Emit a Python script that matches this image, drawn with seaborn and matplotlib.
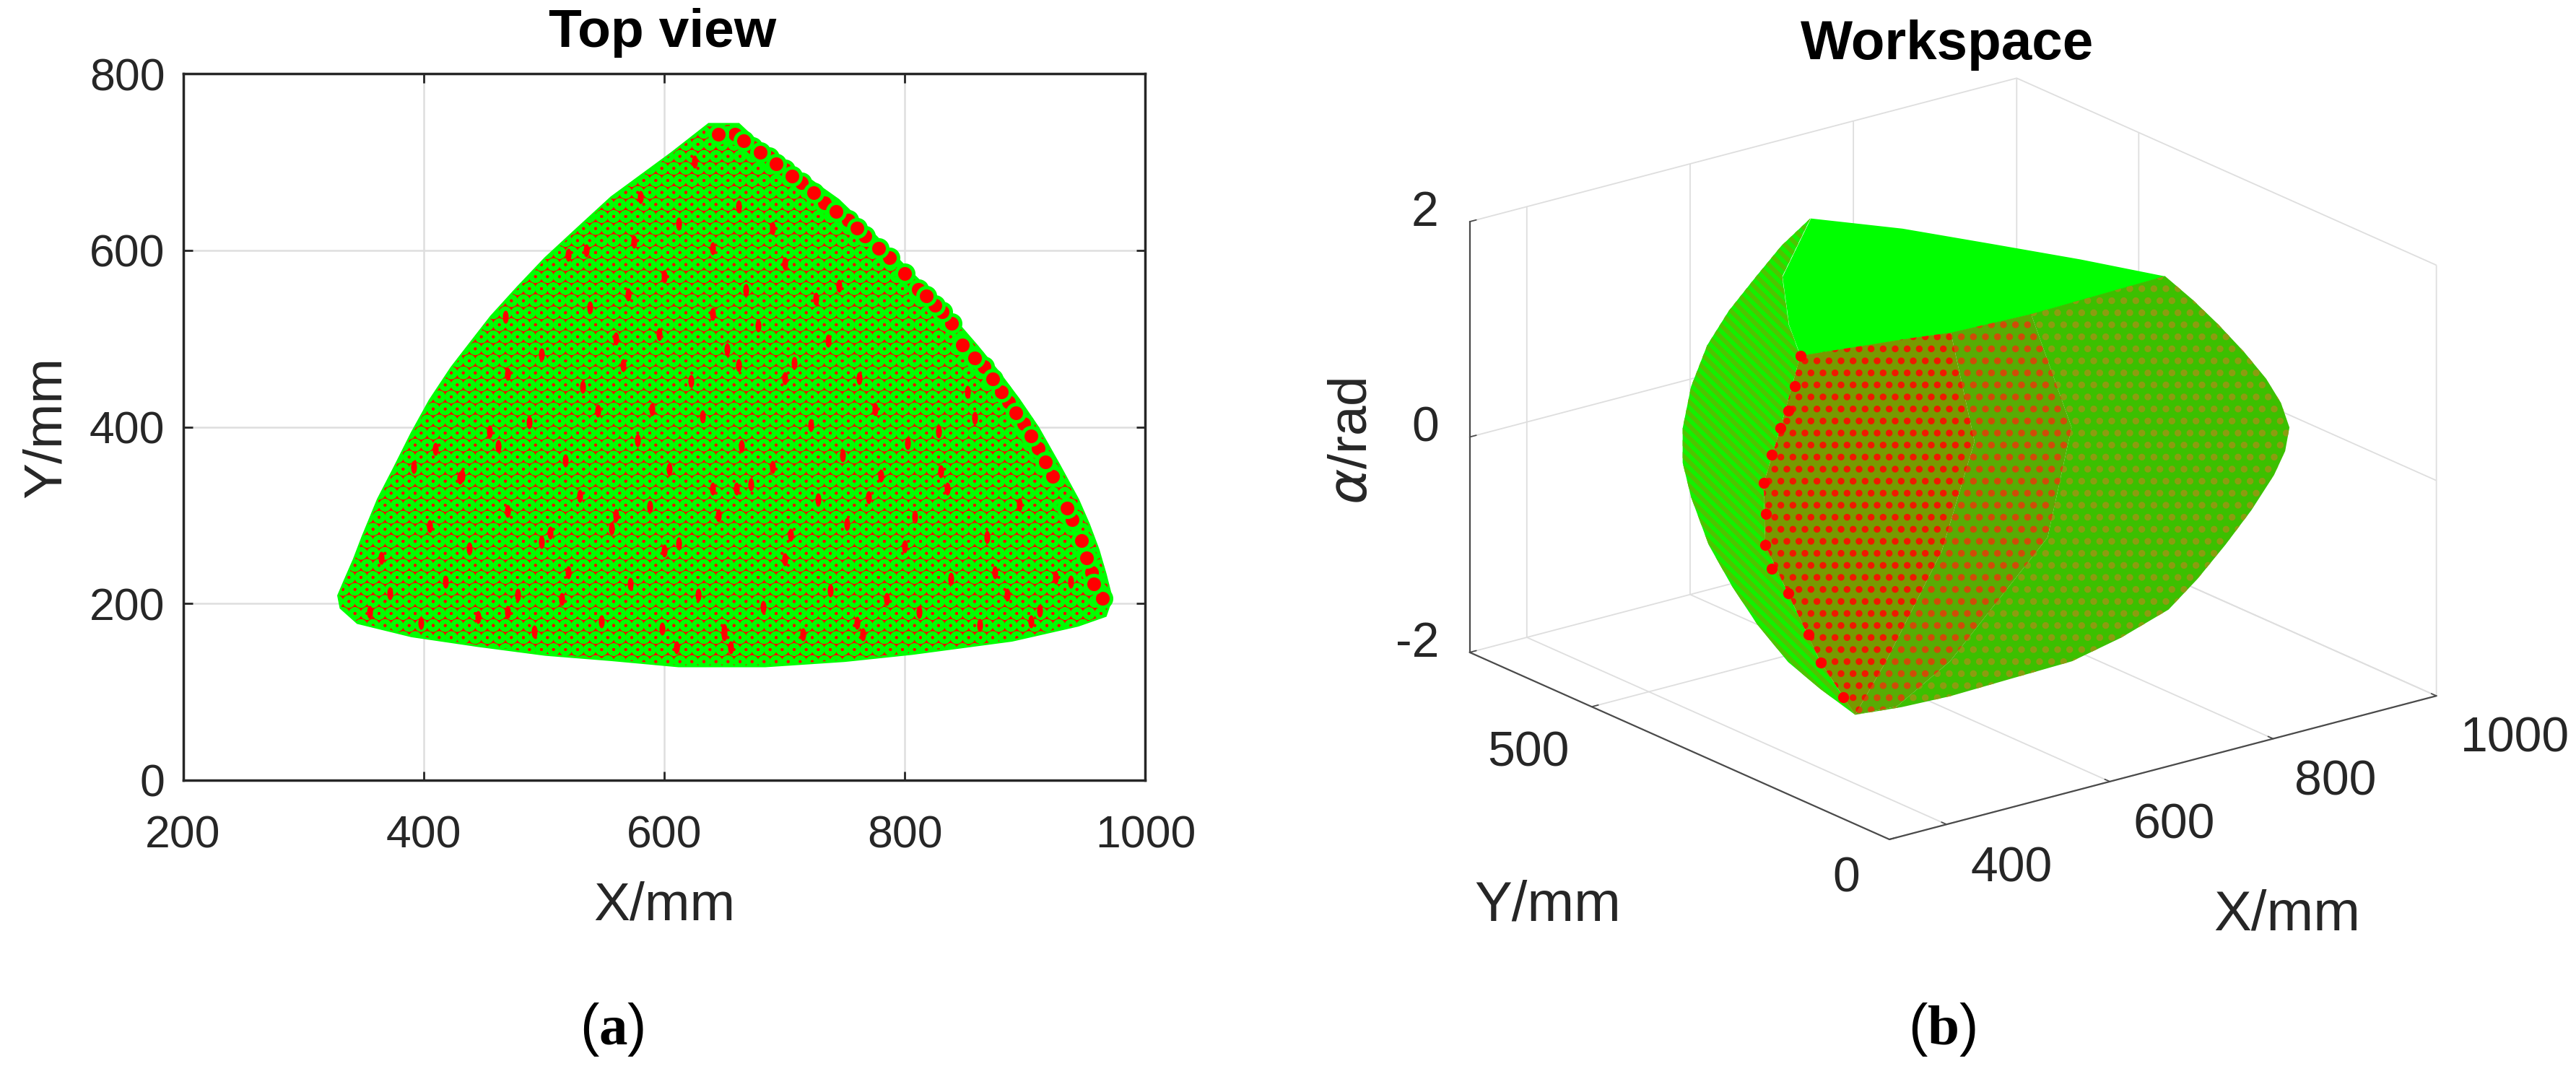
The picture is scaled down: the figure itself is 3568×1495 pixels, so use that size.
import numpy as np, pandas as pd
import matplotlib
matplotlib.use("Agg")
import matplotlib.pyplot as plt
from matplotlib.path import Path
from matplotlib.transforms import Affine2D
import seaborn as sns
from mpl_toolkits.mplot3d.art3d import Poly3DCollection
from mpl_toolkits.mplot3d import proj3d

# ---- Top view: outline
outline_x = [637,662,687,715,745,773,800,820,839,860,878,895,911,928,944,953,961,967,972,967,944,889,806,750,684,612,556,501,445,390,345,331,329,334,342,349,362,376,390,405,423,440,456,478,501,528,556,580,606]
outline_y = [743,743,711,686,657,620,582,555,525,492,462,431,399,358,318,290,261,233,206,186,175,158,143,135,129,129,136,142,152,163,178,195,209,225,250,275,318,355,393,430,467,497,525,558,591,625,660,684,710]
# red points fully visible along the right edge
edge_x = [964,955,951,947,939,923,911,899,886,880,866,858,848,839,831,811,787,778,767,753,733,714,700,687,673,659,645,957,935,917,905,892,873,825,818,800,760,743,724,706,693,680,666]
edge_y = [206,235,252,271,295,344,376,404,428,440,468,478,493,517,530,556,592,602,616,634,654,677,691,705,717,731,731,222,308,360,390,416,454,538,548,574,625,644,665,684,698,711,724]
# visible interior specks
inner_x = [392,410,432,455,468,520,535,580,625,640,662,700,745,770,830,858,875,905,925,470,520,560,600,650,610,700,765,800,650,660,560,590,505,
           355,372,398,418,445,478,492,515,548,572,598,628,655,682,715,738,760,785,812,838,862,885,912,938,
           365,405,438,470,498,530,556,588,612,645,672,705,728,752,780,808,835,868,895,
           430,462,488,518,545,578,604,632,664,690,722,748,775,802,828,852,
           470,498,532,566,596,622,652,678,708,736,762,
           538,570,600,640,668,700,726,575,612,640,662,690]
inner_y = [355,375,345,395,525,595,600,660,700,330,470,250,560,320,350,410,235,180,230,190,235,300,260,165,150,455,165,265,170,330,500,420,280,
           190,212,178,225,185,210,168,205,180,222,172,210,150,196,165,215,178,205,190,228,176,210,192,225,
           252,288,262,305,270,322,285,310,268,300,335,278,318,290,345,298,330,275,312,
           342,378,405,362,418,385,352,412,378,355,402,368,420,382,395,440,
           460,482,445,470,505,452,488,515,472,498,455,
           535,550,570,528,555,585,545,610,630,602,650,625]
# ---- Workspace: surface outlines (X mm, Y mm, alpha rad)
top_x = [679,732,774,816,852,683,589,548,433,478,556]
top_y = [611,530,439,346,253,246,252,264,291,372,490]
top_a = [1.57]*11
ridge_x = [439,417,399,387,392,411,433]
ridge_y = [207,235,265,287,296,294,291]
ridge_a = [-1.57,-1.107,-.505,-.084,.457,.938,1.57]
rim_x = [427,418,402,390.5,390,411,431]
rim_y = [292,291,296,290,280,247,216]
rim_a = [1.30,1.09,.70,.186,-.295,-.866,-1.41]
sil_left_x = [679,641,605,565,529,494,464,445,432,420,415,413,416,426.5]
sil_left_y = [611,608,601,592,579,558,531,505,473,427,381,336,288,248]
sil_left_a = [1.57,1.396,1.2,.983,.766,.505,.244,.026,-.19,-.495,-.756,-.995,-1.234,-1.408]
top_back_x, top_back_y, top_back_a = [478,556], [372,490], [1.57,1.57]
sil_right_x = [683,852,864,874,883,890,892,890,876,858,826,798,757,723,674,628,574,520,477]
sil_right_y = [246,253,222,194,163,135,113,96,84,78,72,77,68,70,83,102,130,158,181]
sil_right_a = [1.57,1.57,1.398,1.225,1.028,.831,.658,.475,.313,.141,-.106,-.382,-.598,-.82,-1.017,-1.19,-1.313,-1.437,-1.51]
sparse_x = [699,639,521,462]; sparse_y = [200,158,160,168]; sparse_a = [.6,-.2,-1.12,-1.44]
dense_x = [589,637,556,478]; dense_y = [252,278,222,209]; dense_a = [1.57,.4,-.32,-1.16]
x_ticks_a, y_ticks_a = [200,400,600,800,1000], [0,200,400,600,800]
x_ticks_b, y_ticks_b, z_ticks_b = [400,600,800,1000], [0,500], [-2,0,2]
x_lab_b = ["400","600","800","1000"]; y_lab_b = ["0","500"]; z_lab_b = ["-2","0","2"]

W, H = 3568, 1495
sns.set_theme(style="white")
plt.rcParams.update({"font.family": ["Liberation Sans", "DejaVu Sans"], "hatch.linewidth": 4.3,
                     "mathtext.fontset": "custom", "mathtext.rm": "Liberation Serif",
                     "mathtext.bf": "Liberation Serif:bold"})
DARK = "#262626"; GRID = "#dedede"
fig = plt.figure(figsize=(W/100, H/100), dpi=100, facecolor="white")

ax = fig.add_axes([253.5/W, 1-1081/H, 1333/W, 979/H])
ax.set_axisbelow(True)
ax.grid(True, color=GRID, lw=1.8)
ax.fill(outline_x, outline_y, facecolor="#ff0000", edgecolor="#00ff00", lw=2, hatch="O", zorder=2)
sliver = Path.unit_circle().transformed(Affine2D().scale(0.45, 1.0))
sns.scatterplot(x=inner_x, y=inner_y, ax=ax, s=170, color="#ff0000", marker=sliver, linewidth=0, zorder=3, legend=False)
sns.scatterplot(x=edge_x, y=edge_y, ax=ax, s=300, color="#ff0000", edgecolor="#00ff00", linewidth=3.6, zorder=4, legend=False)
ax.set_xlim(200, 1000); ax.set_ylim(0, 800)
ax.set_xticks(x_ticks_a); ax.set_yticks(y_ticks_a)
ax.tick_params(direction="in", length=9, width=2, color=DARK, top=True, right=True, bottom=True, left=True,
               labelsize=45, labelcolor=DARK)
ax.tick_params(axis="x", pad=34); ax.tick_params(axis="y", pad=18)
for s in ax.spines.values():
    s.set_color(DARK); s.set_linewidth(2.5); s.set_visible(True)
ax.set_xlabel("X/mm", fontsize=54, color=DARK, labelpad=24)
ax.set_ylabel("Y/mm", fontsize=54, color=DARK, labelpad=18)
fig.text(918/W, 1-45/H, "Top view", fontsize=54, fontweight="bold", color="black", ha="center", va="center")

ax3 = fig.add_axes([1900/W, 0.02, 1500/W, 0.95], projection="3d", computed_zorder=False)
ax3.set_proj_type("ortho")
ax3.view_init(elev=20, azim=-127.5)
ax3.set_box_aspect((1, 1, .665))
ax3.set_xlim(330, 1000); ax3.set_ylim(0, 705); ax3.set_zlim(-2, 2)
ax3.patch.set_alpha(0)
def poly(xs, ys, zs, fc, hc=None, hatch=None, zo=2):
    pc = Poly3DCollection([list(zip(xs, ys, zs))], facecolors=fc, edgecolors=hc or fc, linewidths=0, zorder=zo)
    if hatch: pc.set_hatch(hatch)
    ax3.add_collection3d(pc)
poly(top_x, top_y, top_a, "#00ff00", zo=2)
poly(sil_left_x + ridge_x + top_back_x, sil_left_y + ridge_y + top_back_y, sil_left_a + ridge_a + top_back_a,
     "#14f000", "#4fc400", "\\\\", zo=3)
poly(sil_right_x + ridge_x[:1] + sparse_x[::-1], sil_right_y + ridge_y[:1] + sparse_y[::-1],
     sil_right_a + ridge_a[:1] + sparse_a[::-1], "#3cc000", "#8c9c10", ".", zo=4)
poly([683] + sparse_x + ridge_x[:1] + dense_x[::-1], [246] + sparse_y + ridge_y[:1] + dense_y[::-1],
     [1.57] + sparse_a + ridge_a[:1] + dense_a[::-1], "#58ac04", "#d04c08", ".", zo=5)
poly(top_x[8:9] + top_x[7:8] + dense_x + ridge_x, top_y[8:9] + top_y[7:8] + dense_y + ridge_y,
     top_a[8:9] + top_a[7:8] + dense_a + ridge_a, "#789a00", "#f01800", ".", zo=6)
ax3.scatter(ridge_x[1:] + rim_x, ridge_y[1:] + rim_y, ridge_a[1:] + rim_a, s=120, c="#ff0000", linewidths=0, depthshade=False, zorder=7)

ax3.set_xticks(x_ticks_b); ax3.set_yticks(y_ticks_b); ax3.set_zticks(z_ticks_b)
ax3.set_xticklabels([]); ax3.set_yticklabels([]); ax3.set_zticklabels([])
for a in (ax3.xaxis, ax3.yaxis, ax3.zaxis):
    a.set_pane_color((1, 1, 1, 0)); a.pane.set_edgecolor(GRID)
    a.line.set_color("#4a4a4a"); a.line.set_linewidth(1.6)
    a._axinfo["grid"].update(color=GRID, linewidth=1.3)
    a._axinfo["tick"].update(inward_factor=0.0, outward_factor=0.15)
ax3.tick_params(color="#4a4a4a", width=1.6)

def t(px, py, s, size, **kw):
    fig.text(px/W, 1-py/H, s, fontsize=size, color=kw.pop("color", DARK), ha="center", va="center", **kw)
for lab, (px, py) in zip(x_lab_b, [(2786,1204),(3011,1143),(3235,1083),(3483,1023)]): t(px, py, lab, 49)
for lab, (px, py) in zip(y_lab_b, [(2557,1217),(2117,1044)]): t(px, py, lab, 49)
for lab, (px, py) in zip(z_lab_b, [(1963,892),(1974,593),(1974,295)]): t(px, py, lab, 49)
t(3168, 1268, "X/mm", 56); t(2144, 1255, "Y/mm", 56)
t(1873, 611, r"$\alpha$/rad", 54, rotation=90)
t(2697, 63, "Workspace", 55, fontweight="bold", color="black")

# fit the 3-D box to the reference frame (layout only)
def corner(x, y, z):
    fig.canvas.draw()
    u, v, _ = proj3d.proj_transform(x, y, z, ax3.get_proj())
    return ax3.transData.transform((u, v))
for _ in range(3):
    a = corner(330, 0, -2); b = corner(1000, 0, -2)
    c = corner(330, 705, -2)
    span = b[0] - c[0]
    p = ax3.get_position(original=True)
    k = (3372 - 2033) / span
    side = max(p.width * W, p.height * H) * k
    cx = p.x0 * W + p.width * W / 2; cy = p.y0 * H + p.height * H / 2
    nx = cx + (2617 - a[0]); ny = cy + ((H - 1163) - a[1])
    ax3.set_position([(nx - side/2)/W, (ny - side/2)/H, side/W, side/H])

t(848, 1426, r"($\mathbf{a}$)", 57, color="black")
t(2690, 1427, r"($\mathbf{b}$)", 57, color="black")
fig.savefig("out.png", dpi=100)
